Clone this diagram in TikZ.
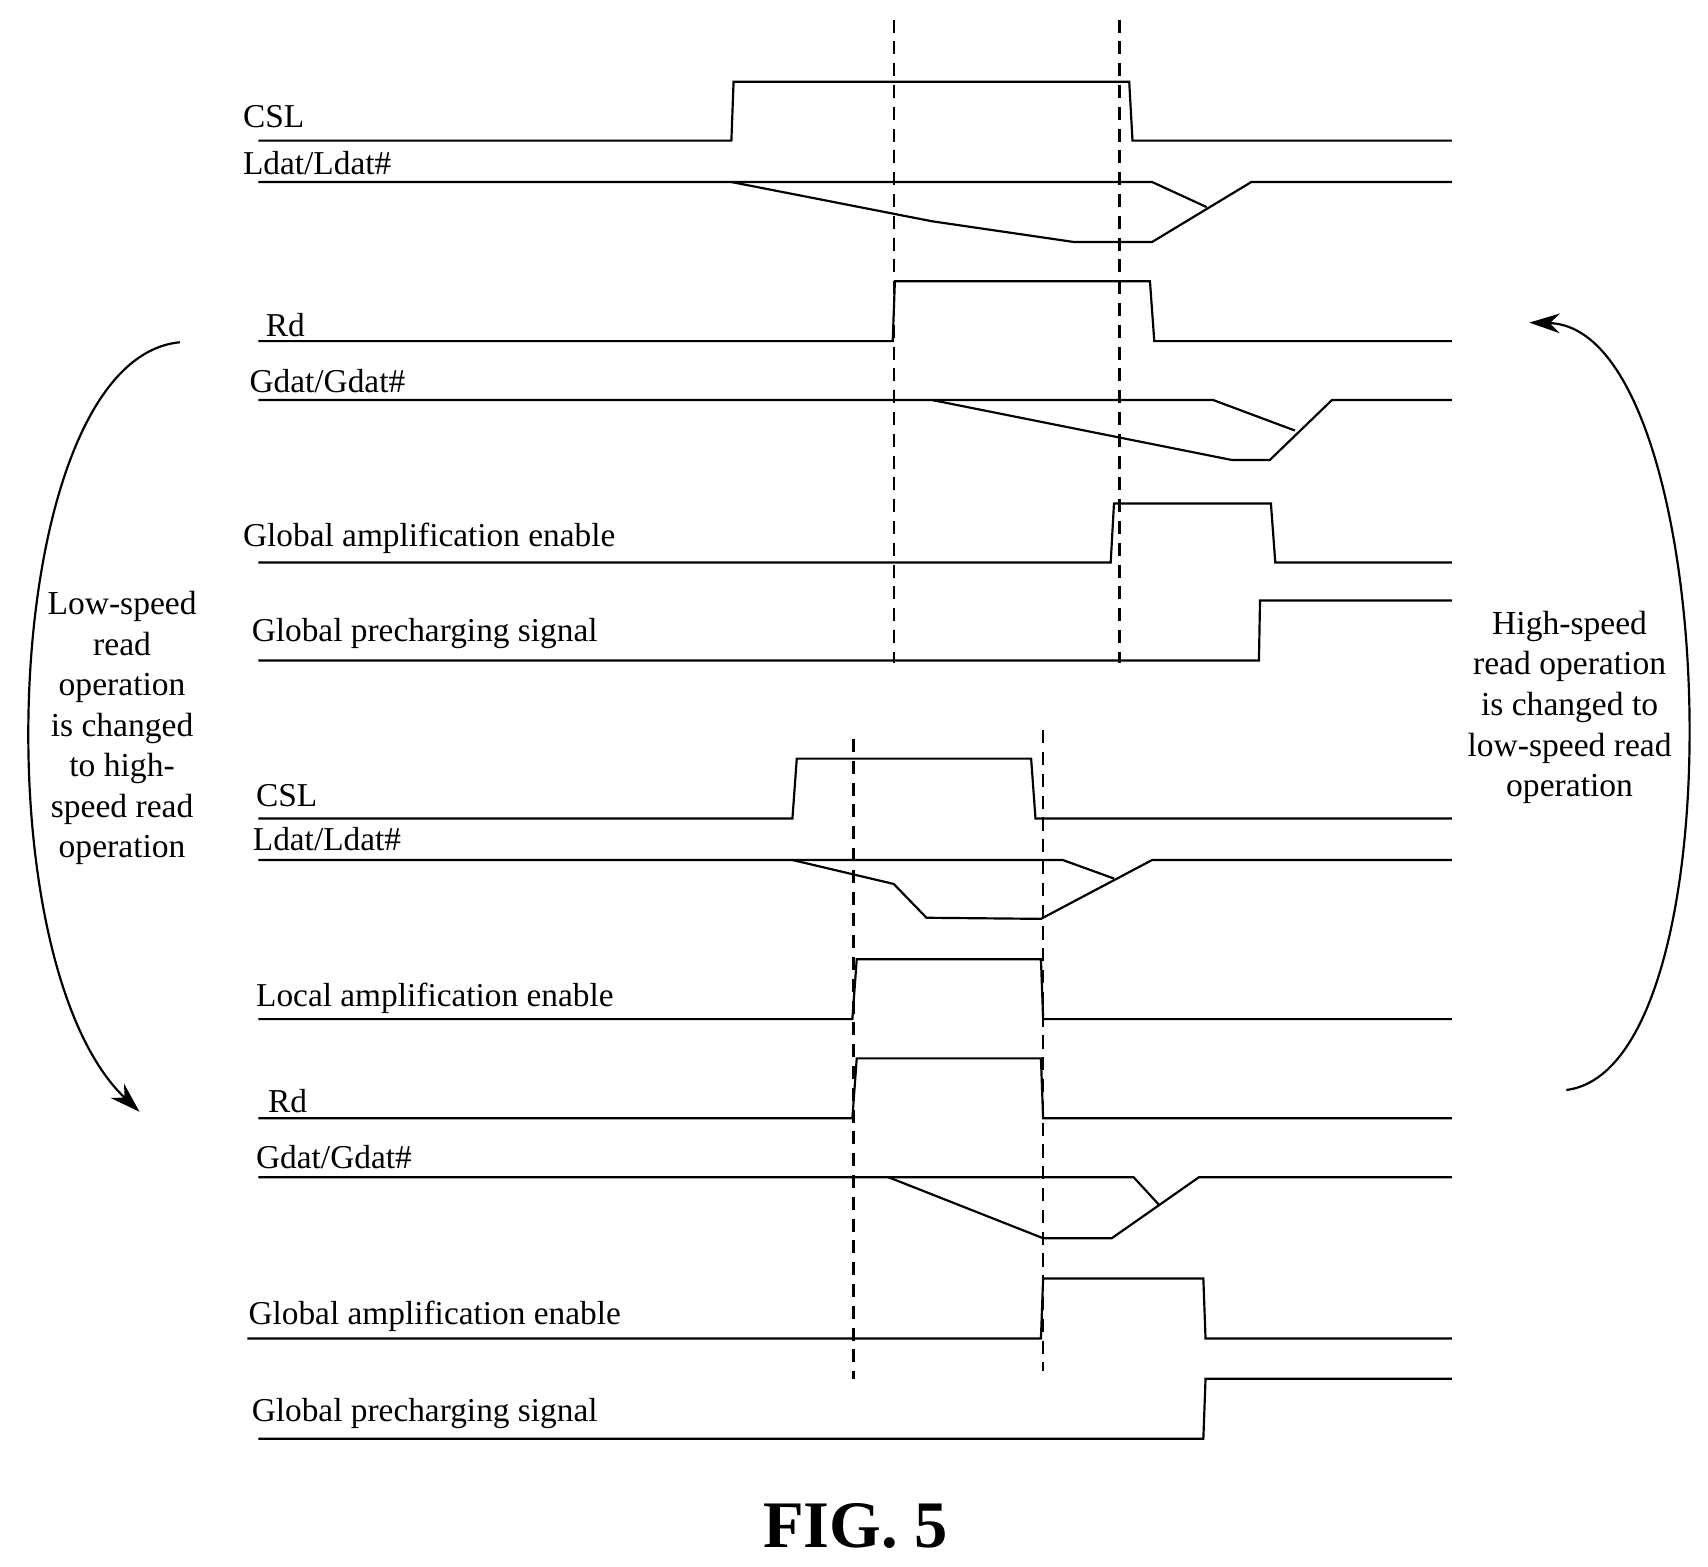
\documentclass[tikz,border=0pt]{standalone}
\usepackage{fontspec}
\setmainfont{Liberation Serif}
\usetikzlibrary{arrows.meta}
\begin{document}
\begin{tikzpicture}[x=0.5pt,y=-0.5pt,line width=1pt,
 lbl/.style={anchor=west,font=\fontsize{15.3}{17}\selectfont,inner sep=0},
 side/.style={align=center,font=\fontsize{15.4}{18.6}\selectfont,inner sep=0},
 dsh/.style={dash pattern=on 6pt off 4pt}]
\useasboundingbox (0,0) rectangle (1567,1437.6);
% dashed
\draw[dsh] (820,18) -- (820,608);
\draw[dsh] (1027,18) -- (1027,608);
\draw[dsh] (783,678) -- (783,1265);
\draw[dsh] (957,670) -- (957,1258);
% top
\node[lbl] (t1) at (222,107) {CSL};
\draw (237,129) -- (671,129) -- (673,75) -- (1036,75) -- (1039,129) -- (1332,129);
\node[lbl] (t2) at (222,150) {Ldat/Ldat\#};
\draw (237,167) -- (1057,167) -- (1107,190);
\draw (671,167) -- (855,203) -- (985,222) -- (1057,222) -- (1148,167) -- (1332,167);
\node[lbl] (t3) at (243,298) {Rd};
\draw (237,313) -- (819,313) -- (821,258) -- (1055,258) -- (1059,313) -- (1332,313);
\node[lbl] (t4) at (228,350) {Gdat/Gdat\#};
\draw (237,367) -- (1113,367) -- (1188,395);
\draw (855,367) -- (1130,422) -- (1165,422) -- (1222,367) -- (1332,367);
\node[lbl] (t5) at (222,494) {Global amplification enable};
\draw (237,516) -- (1019,516) -- (1022,462) -- (1166,462) -- (1170,516) -- (1332,516);
\node[lbl] (t6) at (230,581) {Global precharging signal};
\draw (237,606) -- (1155,606) -- (1156,551) -- (1332,551);
% bottom
\node[lbl] (b1) at (234,730) {CSL};
\draw (237,751) -- (727,751) -- (731,696) -- (946,696) -- (950,751) -- (1332,751);
\node[lbl] (b2) at (231,770) {Ldat/Ldat\#};
\draw (237,789) -- (975,789) -- (1022,806);
\draw (727,789) -- (820,811) -- (850,842) -- (955,843) -- (1057,789) -- (1332,789);
\node[lbl] (b3) at (234,916) {Local amplification enable};
\draw (237,935) -- (782,935) -- (786,880) -- (955,880) -- (957,935) -- (1332,935);
\node[lbl] (b4) at (245,1010) {Rd};
\draw (237,1026) -- (782,1026) -- (786,971) -- (955,971) -- (957,1026) -- (1332,1026);
\node[lbl] (b5) at (234,1062) {Gdat/Gdat\#};
\draw (237,1080) -- (1040,1080) -- (1063,1105);
\draw (815,1080) -- (957,1136) -- (1020,1136) -- (1100,1080) -- (1332,1080);
\node[lbl] (b6) at (227,1208) {Global amplification enable};
\draw (227,1228) -- (955,1228) -- (957,1173) -- (1104,1173) -- (1106,1228) -- (1332,1228);
\node[lbl] (b7) at (230,1297) {Global precharging signal};
\draw (237,1320) -- (1104,1320) -- (1106,1265) -- (1332,1265);
% side arrows
\coordinate (la) at (165,314);
\coordinate (lb) at (128,1020);
\draw[-{Stealth[length=14pt,width=9pt]}] (la) .. controls (0,330) and (-20,880) .. (lb);
\coordinate (ra) at (1437,1000);
\coordinate (rb) at (1403,296);
\draw[-{Stealth[length=14pt,width=9pt]}] (ra) .. controls (1600,980) and (1580,300) .. (rb);
\node[side] (lt) at (112,668) {Low-speed\\read\\operation\\is changed\\to high-\\speed read\\operation};
\node[side] (rt) at (1440,649) {High-speed\\read operation\\is changed to\\low-speed read\\operation};
\node[font=\fontsize{30.5}{33}\selectfont\bfseries] (fig) at (785,1400) {FIG. 5};
\end{tikzpicture}
\end{document}
